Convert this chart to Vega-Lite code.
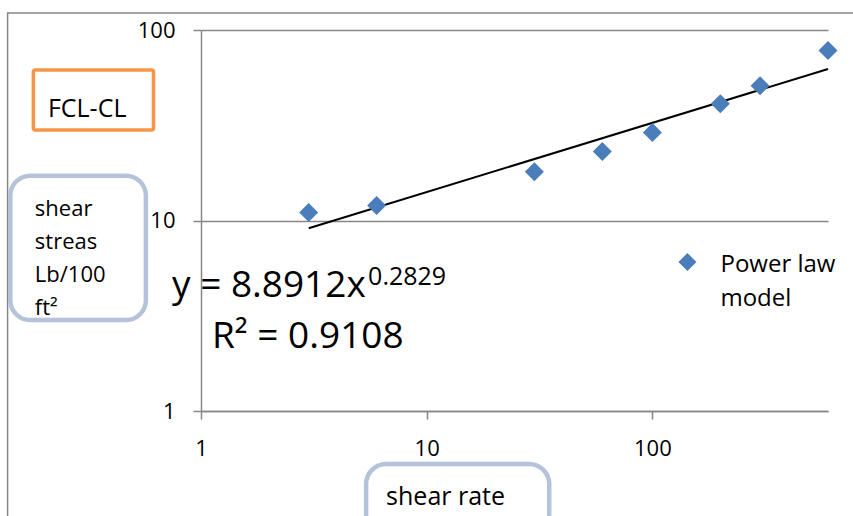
{
  "$schema": "https://vega.github.io/schema/vega-lite/v6.json",
  "width": 627,
  "height": 381,
  "autosize": {"type": "none"},
  "padding": {"left": 201, "top": 30, "right": 25, "bottom": 105},
  "background": "white",
  "config": {
    "font": "Open Sans",
    "view": {"stroke": null},
    "axis": {
      "domainColor": "#878787",
      "domainWidth": 1.5,
      "tickColor": "#878787",
      "tickWidth": 1.5,
      "tickSize": 8,
      "labelColor": "#000000",
      "labelFontSize": 22,
      "labelFont": "Open Sans",
      "gridColor": "#878787",
      "gridWidth": 1.5
    }
  },
  "datasets": {
    "points": [
      {"rate": 3, "stress": 11},
      {"rate": 6, "stress": 12},
      {"rate": 30, "stress": 18},
      {"rate": 60, "stress": 23},
      {"rate": 100, "stress": 29},
      {"rate": 200, "stress": 41},
      {"rate": 300, "stress": 51},
      {"rate": 600, "stress": 78}
    ],
    "trend": [
      {"rate": 3, "stress": 9.1},
      {"rate": 600, "stress": 62.4}
    ],
    "border": [
      {"rate": 0.139, "rate2": 3000, "stress": 122.8, "stress2": 0.05}
    ],
    "orangeBox": [
      {"rate": 0.1808, "rate2": 0.616, "stress": 61.7, "stress2": 29.9}
    ],
    "blueBoxes": [
      {"rate": 0.1429, "rate2": 0.57, "stress": 17.2, "stress2": 3.0},
      {"rate": 5.39, "rate2": 34.9, "stress": 0.527, "stress2": 0.2234}
    ],
    "labels22": [
      {"rate": 0.1836, "stress": 10.56, "label": "shear\nstreas\nLb/100\nft²"}
    ],
    "labels25": [
      {"rate": 6.61, "stress": 0.321, "label": "shear rate"},
      {"rate": 0.2097, "stress": 34.9, "label": "FCL-CL"}
    ],
    "eqMain": [
      {"rate": 0.744, "stress": 3.97, "label": "y = 8.8912x"},
      {"rate": 1.119, "stress": 2.141, "label": "R² = 0.9108"}
    ],
    "eqSup": [
      {"rate": 5.5, "stress": 4.585, "label": "0.2829"}
    ],
    "legendSym": [
      {"rate": 143, "stress": 6.055}
    ],
    "legendText": [
      {"rate": 200.3, "stress": 5.385, "label": "Power law\nmodel"}
    ]
  },
  "encoding": {
    "x": {
      "field": "rate",
      "type": "quantitative",
      "scale": {"type": "log", "domain": [1, 600], "nice": false},
      "axis": {"values": [1, 10, 100], "format": "d", "grid": false, "title": null, "labelPadding": 19, "labelFlush": false}
    },
    "y": {
      "field": "stress",
      "type": "quantitative",
      "scale": {"type": "log", "domain": [1, 100], "nice": false},
      "axis": {"values": [1, 10, 100], "format": "d", "grid": true, "title": null, "labelPadding": 18, "labelFlush": false}
    }
  },
  "layer": [
    {
      "data": {"name": "border"},
      "mark": {"type": "rect", "fill": "transparent", "stroke": "#878787", "strokeWidth": 1.5},
      "encoding": {"x2": {"field": "rate2"}, "y2": {"field": "stress2"}}
    },
    {
      "data": {"name": "trend"},
      "mark": {"type": "line", "color": "#000000", "strokeWidth": 2},
      "encoding": {}
    },
    {
      "data": {"name": "points"},
      "mark": {"type": "point", "shape": "diamond", "filled": true, "size": 361, "color": "#4A7EBB", "opacity": 1},
      "encoding": {}
    },
    {
      "data": {"name": "orangeBox"},
      "mark": {"type": "rect", "fill": "transparent", "stroke": "#F79646", "strokeWidth": 3.5, "cornerRadius": 2},
      "encoding": {"x2": {"field": "rate2"}, "y2": {"field": "stress2"}}
    },
    {
      "data": {"name": "blueBoxes"},
      "mark": {"type": "rect", "fill": "transparent", "stroke": "#B4C3D9", "strokeWidth": 4.5, "cornerRadius": 20},
      "encoding": {"x2": {"field": "rate2"}, "y2": {"field": "stress2"}}
    },
    {
      "data": {"name": "labels22"},
      "mark": {"type": "text", "align": "left", "baseline": "alphabetic", "fontSize": 22, "lineHeight": 33, "lineBreak": "\n", "color": "#000000"},
      "encoding": {"text": {"field": "label"}}
    },
    {
      "data": {"name": "labels25"},
      "mark": {"type": "text", "align": "left", "baseline": "alphabetic", "fontSize": 25, "color": "#000000"},
      "encoding": {"text": {"field": "label"}}
    },
    {
      "data": {"name": "eqMain"},
      "mark": {"type": "text", "align": "left", "baseline": "alphabetic", "fontSize": 37, "color": "#000000"},
      "encoding": {"text": {"field": "label"}}
    },
    {
      "data": {"name": "eqSup"},
      "mark": {"type": "text", "align": "left", "baseline": "alphabetic", "fontSize": 25, "color": "#000000"},
      "encoding": {"text": {"field": "label"}}
    },
    {
      "data": {"name": "legendSym"},
      "mark": {"type": "point", "shape": "diamond", "filled": true, "size": 324, "color": "#4A7EBB", "opacity": 1},
      "encoding": {}
    },
    {
      "data": {"name": "legendText"},
      "mark": {"type": "text", "align": "left", "baseline": "alphabetic", "fontSize": 24, "lineHeight": 34, "lineBreak": "\n", "color": "#000000"},
      "encoding": {"text": {"field": "label"}}
    }
  ]
}
